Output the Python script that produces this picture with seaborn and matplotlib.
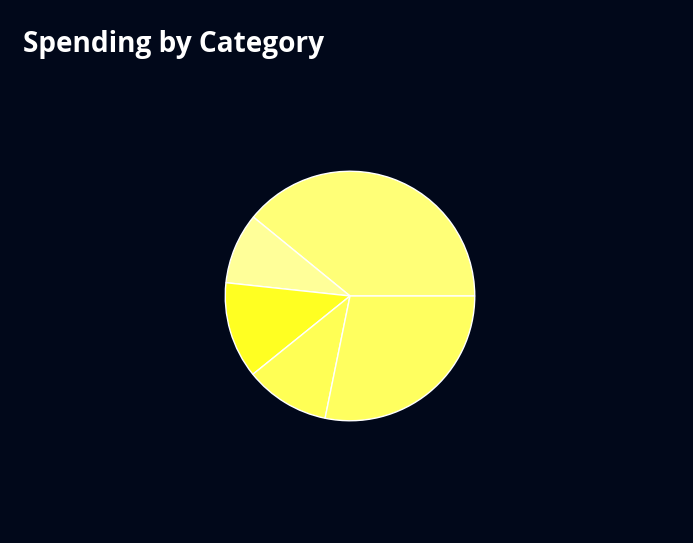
import matplotlib
matplotlib.use("Agg")
import matplotlib.pyplot as plt
import seaborn as sns

# spending shares (percent)
categorias = ["Housing", "Entertainment", "Food", "Transport", "Utilities"]
valores = [39.1, 9.2, 12.5, 11.0, 28.2]
colores = ["#ffff77", "#ffff99", "#ffff22", "#ffff55", "#ffff5f"]

fondo = "#01081a"

sns.set_theme(style="dark")
plt.rcParams["font.family"] = ["Open Sans", "DejaVu Sans"]

fig = plt.figure(figsize=(6.93, 5.43), dpi=100, facecolor=fondo)

# eje cuadrado centrado en (350, 296) px con radio 126 px
W, H = 693, 543
cx, cy, r = 350, 296, 126
ax = fig.add_axes([(cx - r) / W, (H - cy - r) / H, 2 * r / W, 2 * r / H])
ax.set_facecolor(fondo)

ax.pie(valores, colors=colores, startangle=0, counterclock=True,
       wedgeprops={"edgecolor": "white", "linewidth": 1.0})
ax.set_xlim(-1.01, 1.01)
ax.set_ylim(-1.01, 1.01)
ax.set_aspect("equal")
ax.axis("off")

fig.text(23 / W, 1 - 52 / H, "Spending by Category", color="white",
         fontsize=20.2, fontweight="bold", ha="left", va="baseline")

fig.savefig("out.png", dpi=100, facecolor=fondo)
